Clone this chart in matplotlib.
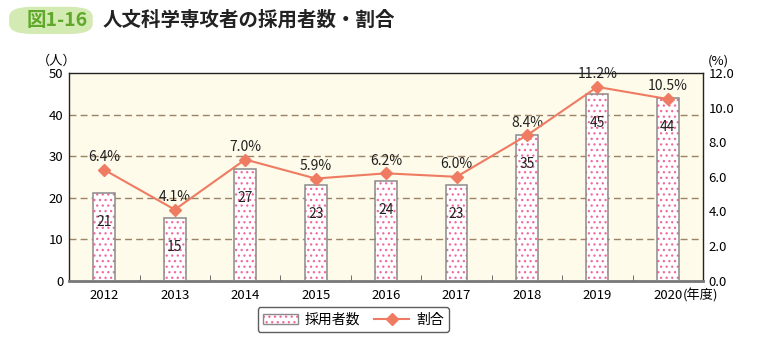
import matplotlib
matplotlib.use('Agg')
import matplotlib.pyplot as plt
from matplotlib.patches import Patch, FancyBboxPatch
from matplotlib.lines import Line2D
import numpy as np

plt.rcParams['font.family'] = ['Noto Sans CJK JP', 'DejaVu Sans']
plt.rcParams['hatch.linewidth'] = 0.9

years = ['2012', '2013', '2014', '2015', '2016', '2017', '2018', '2019', '2020']
hires = [21, 15, 27, 23, 24, 23, 35, 45, 44]
ratio = [6.4, 4.1, 7.0, 5.9, 6.2, 6.0, 8.4, 11.2, 10.5]

line_col = '#ee7b62'
pink = '#f06a9f'
x = np.arange(len(years))

fig = plt.figure(figsize=(7.6, 3.4), dpi=100)
ax = fig.add_axes([0.091, 0.175, 0.834, 0.61])
ax.set_facecolor('#fffbea')

# bars: pink dotted fill + grey outline
ax.bar(x, hires, width=0.31, color='white', edgecolor=pink, hatch='...', linewidth=0, zorder=2)
ax.bar(x, hires, width=0.31, fill=False, edgecolor='#8a8a8a', linewidth=1.1, zorder=3)
for xi, v in zip(x, hires):
    ax.text(xi, v - 7, str(v), ha='center', va='center', fontsize=10, color='#222222', zorder=4)

ax.set_xlim(-0.5, len(years) - 0.5)
ax.set_ylim(0, 50)
ax.set_yticks(range(0, 51, 10))
ax.set_xticks(x)
ax.set_xticklabels(years)
ax.set_xticks(x[:-1] + 0.5, minor=True)
ax.tick_params(axis='x', which='major', length=0, labelsize=9.5, pad=6)
ax.tick_params(axis='x', which='minor', direction='in', length=4, color='#555555')
ax.tick_params(axis='y', length=0, labelsize=9.5, pad=4)
for yv in range(10, 50, 10):
    ax.axhline(yv, color='#9b8466', linestyle=(0, (5, 3)), linewidth=1, zorder=1)
for s in ['top', 'right', 'left']:
    ax.spines[s].set_color('#222222')
    ax.spines[s].set_linewidth(1)
ax.spines['bottom'].set_color('#777777')
ax.spines['bottom'].set_linewidth(2)

ax2 = ax.twinx()
ax2.plot(x, ratio, color=line_col, linewidth=1.5, marker='D', markersize=6.5, zorder=5)
for xi, r in zip(x, ratio):
    ax2.annotate(f'{r:.1f}%', (xi, r), xytext=(0, 4), textcoords='offset points',
                 ha='center', va='bottom', fontsize=10, color='#222222')
ax2.set_ylim(0, 12)
ax2.set_yticks(np.arange(0, 12.1, 2))
ax2.set_yticklabels([f'{t:.1f}' for t in np.arange(0, 12.1, 2)])
ax2.tick_params(axis='y', length=0, labelsize=9.5, pad=4)
for s in ax2.spines.values():
    s.set_visible(False)

ax.annotate('(年度)', (x[-1], 0), xytext=(11, -6), textcoords='offset points',
            xycoords=('data', 'axes fraction'), ha='left', va='top', fontsize=9.5)
fig.text(0.075, 0.80, '（人）', ha='center', va='bottom', fontsize=9.5)
fig.text(0.945, 0.80, '(%)', ha='center', va='bottom', fontsize=9.5)

# title
fig.patches.append(FancyBboxPatch((0.012, 0.9), 0.11, 0.08, boxstyle='round,pad=0,rounding_size=0.03',
                                  transform=fig.transFigure, facecolor='#d3eab3', edgecolor='none'))
fig.text(0.035, 0.94, '図1-16', fontsize=14, color='#5fa82a', fontweight='bold', va='center')
fig.text(0.135, 0.94, '人文科学専攻者の採用者数・割合', fontsize=14, color='#222222',
         fontweight='bold', va='center')

h_bar = (Patch(facecolor='white', edgecolor=pink, hatch='...', linewidth=0),
         Patch(fill=False, edgecolor='#8a8a8a', linewidth=1))
h_line = Line2D([], [], color=line_col, linewidth=1.5, marker='D', markersize=6)
leg = fig.legend([h_bar, h_line], ['採用者数', '割合'], loc='center', bbox_to_anchor=(0.465, 0.06),
                 ncol=2, fontsize=10, frameon=True, fancybox=True, edgecolor='#333333',
                 handlelength=2.5, columnspacing=1.0, handletextpad=0.5, borderpad=0.4)
leg.get_frame().set_linewidth(1)

fig.savefig('out.png', dpi=100)
